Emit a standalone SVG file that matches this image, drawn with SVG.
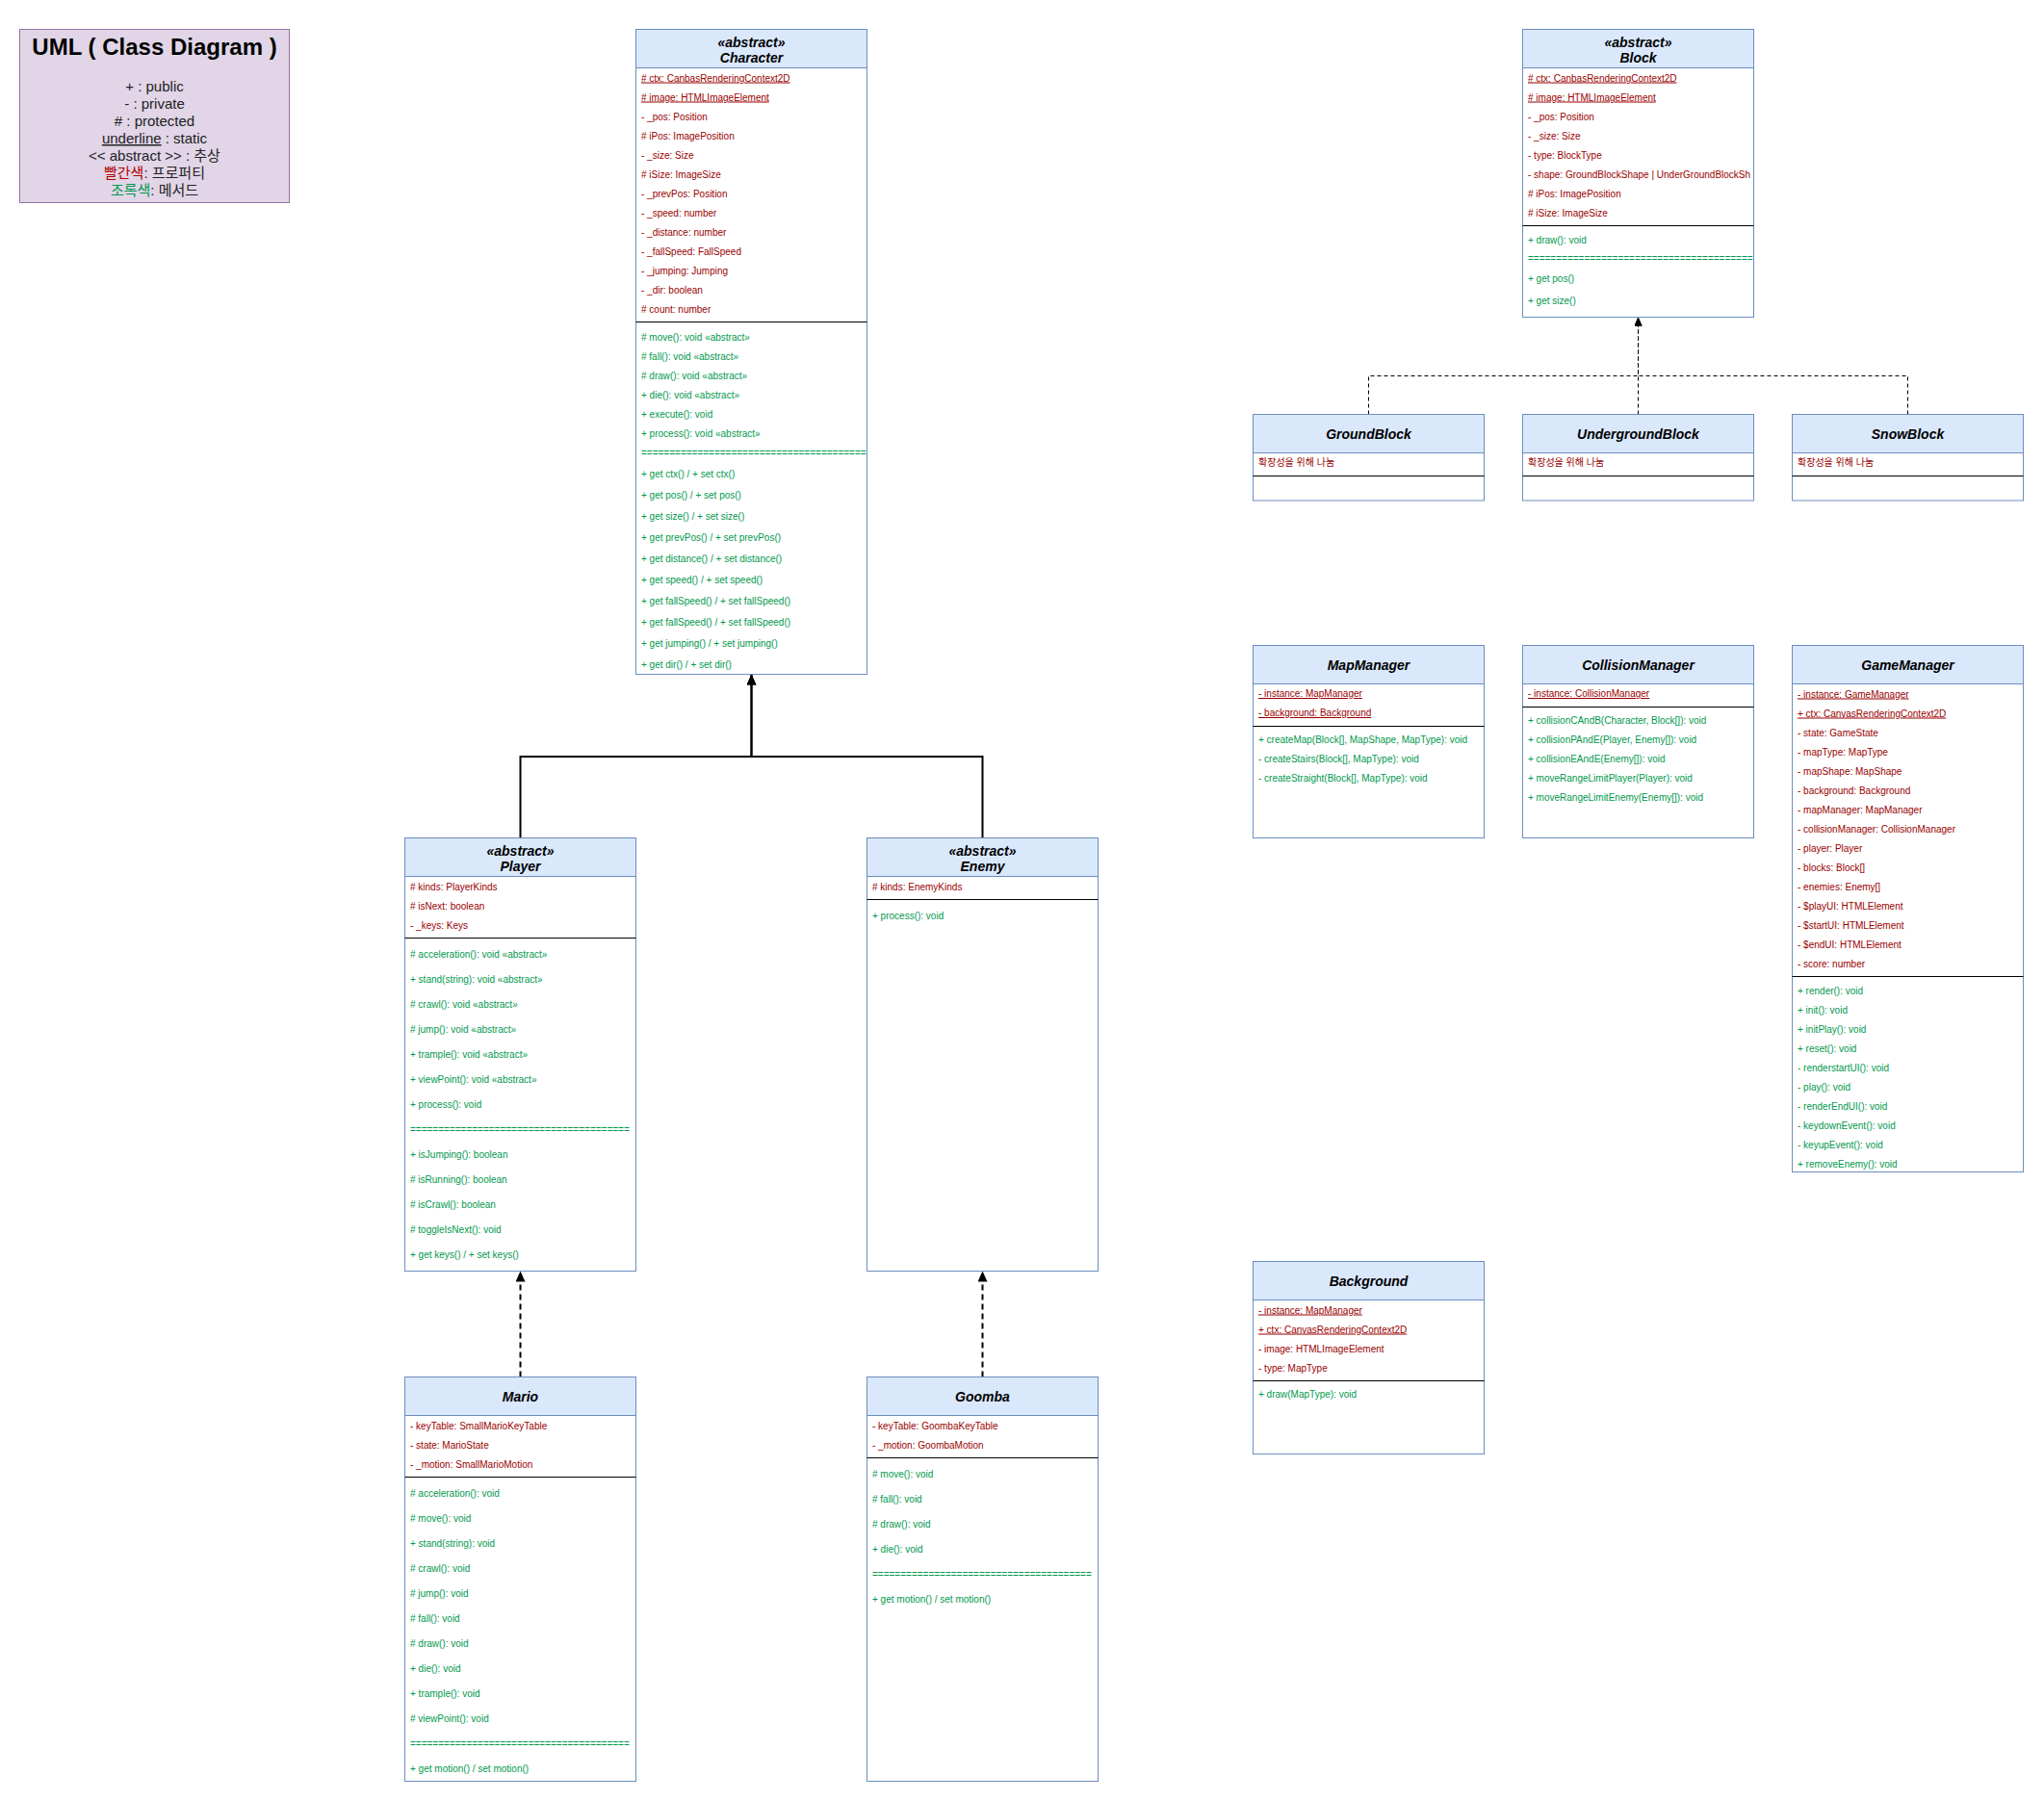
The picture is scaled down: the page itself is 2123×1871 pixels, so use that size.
<svg xmlns="http://www.w3.org/2000/svg" width="2123" height="1871" viewBox="0 0 2123 1871">
<style>
.t{font-family:"Liberation Sans","Noto Sans CJK KR",sans-serif}
.box{fill:#fff;stroke:#6c8ebf;stroke-width:1}
.hdr{fill:#dae8fc;stroke:#6c8ebf;stroke-width:1}
.dv{stroke:#000;stroke-width:1}
.a{font-family:"Liberation Sans","Noto Sans CJK KR",sans-serif;font-size:10px;fill:#990000}
.m{font-family:"Liberation Sans","Noto Sans CJK KR",sans-serif;font-size:10px;fill:#00994D}
.u{text-decoration:underline}
.h{font-family:"Liberation Sans",sans-serif;font-size:14px;font-weight:bold;font-style:italic;text-anchor:middle;fill:#000}
.lg{font-family:"Liberation Sans","Noto Sans CJK KR",sans-serif;font-size:15px;fill:#222;text-anchor:middle}
.solid{fill:none;stroke:#000;stroke-width:2}
.dash2{fill:none;stroke:#000;stroke-width:2;stroke-dasharray:6 4}
.dash1{fill:none;stroke:#000;stroke-width:1;stroke-dasharray:4 3}
</style>
<defs>
<marker id="tri" markerUnits="userSpaceOnUse" viewBox="0 0 11 10" refX="11" refY="5" markerWidth="11" markerHeight="10" orient="auto"><path d="M0 0 L11 5 L0 10 z" fill="#000"/></marker>
<marker id="tri-s" markerUnits="userSpaceOnUse" viewBox="0 0 9 8" refX="9" refY="4" markerWidth="9" markerHeight="8" orient="auto"><path d="M0 0 L9 4 L0 8 z" fill="#000"/></marker>
</defs>
<rect width="2123" height="1871" fill="#fff"/>

<g id="legend">
<rect x="20.5" y="30.5" width="280" height="180" fill="#e1d5e7" stroke="#9673a6"/>
<text x="160.5" y="57" class="t" font-size="24" font-weight="bold" text-anchor="middle" fill="#000">UML ( Class Diagram )</text>
<text x="160.5" y="95" class="lg">+ : public</text>
<text x="160.5" y="113" class="lg">- : private</text>
<text x="160.5" y="131" class="lg"># : protected</text>
<text x="160.5" y="149" class="lg"><tspan text-decoration="underline">underline</tspan> : static</text>
<text x="160.5" y="167" class="lg">&lt;&lt; abstract &gt;&gt; : 추상</text>
<text x="160.5" y="185" class="lg"><tspan fill="#B20000">빨간색</tspan>: 프로퍼티</text>
<text x="160.5" y="203" class="lg"><tspan fill="#00994D">조록색</tspan>: 메서드</text>
</g>

<g id="connectors">
<path class="solid" d="M540.5 870.5 V786 H780.5 V700.5" marker-end="url(#tri)"/>
<path class="solid" d="M1020.5 870.5 V786 H780.5 V700.5" marker-end="url(#tri)"/>
<path class="dash2" d="M540.5 1430.5 V1320.5" marker-end="url(#tri)"/>
<path class="dash2" d="M1020.5 1430.5 V1320.5" marker-end="url(#tri)"/>
<path class="dash1" d="M1421.5 430.5 V390.5 H1701.5 V329.5" marker-end="url(#tri-s)"/>
<path class="dash1" d="M1701.5 430.5 V329.5" marker-end="url(#tri-s)"/>
<path class="dash1" d="M1981.5 430.5 V390.5 H1701.5 V329.5" marker-end="url(#tri-s)"/>
</g>

<g id="Character">
<rect class="box" x="660.5" y="30.5" width="240" height="670"/>
<rect class="hdr" x="660.5" y="30.5" width="240" height="40"/>
<line class="dv" x1="660.5" y1="334.5" x2="900.5" y2="334.5"/>
<text class="h" x="780.5" y="48.5">«abstract»</text>
<text class="h" x="780.5" y="65">Character</text>
<text class="a u" x="666" y="84.5"># ctx: CanbasRenderingContext2D</text>
<text class="a u" x="666" y="104.5"># image: HTMLImageElement</text>
<text class="a" x="666" y="124.5">- _pos: Position</text>
<text class="a" x="666" y="144.5"># iPos: ImagePosition</text>
<text class="a" x="666" y="164.5">- _size: Size</text>
<text class="a" x="666" y="184.5"># iSize: ImageSize</text>
<text class="a" x="666" y="204.5">- _prevPos: Position</text>
<text class="a" x="666" y="224.5">- _speed: number</text>
<text class="a" x="666" y="244.5">- _distance: number</text>
<text class="a" x="666" y="264.5">- _fallSpeed: FallSpeed</text>
<text class="a" x="666" y="284.5">- _jumping: Jumping</text>
<text class="a" x="666" y="304.5">- _dir: boolean</text>
<text class="a" x="666" y="324.5"># count: number</text>
<text class="m" x="666" y="353.5"># move(): void «abstract»</text>
<text class="m" x="666" y="374"># fall(): void «abstract»</text>
<text class="m" x="666" y="394"># draw(): void «abstract»</text>
<text class="m" x="666" y="414">+ die(): void «abstract»</text>
<text class="m" x="666" y="434">+ execute(): void</text>
<text class="m" x="666" y="454">+ process(): void «abstract»</text>
<text class="m" x="666" y="473.5">========================================</text>
<text class="m" x="666" y="496">+ get ctx() / + set ctx()</text>
<text class="m" x="666" y="518">+ get pos() / + set pos()</text>
<text class="m" x="666" y="540">+ get size() / + set size()</text>
<text class="m" x="666" y="562">+ get prevPos() / + set prevPos()</text>
<text class="m" x="666" y="584">+ get distance() / + set distance()</text>
<text class="m" x="666" y="606">+ get speed() / + set speed()</text>
<text class="m" x="666" y="628">+ get fallSpeed() / + set fallSpeed()</text>
<text class="m" x="666" y="650">+ get fallSpeed() / + set fallSpeed()</text>
<text class="m" x="666" y="672">+ get jumping() / + set jumping()</text>
<text class="m" x="666" y="694">+ get dir() / + set dir()</text>
</g>

<g id="Block">
<rect class="box" x="1581.5" y="30.5" width="240" height="299"/>
<rect class="hdr" x="1581.5" y="30.5" width="240" height="40"/>
<line class="dv" x1="1581.5" y1="234.5" x2="1821.5" y2="234.5"/>
<text class="h" x="1701.5" y="48.5">«abstract»</text>
<text class="h" x="1701.5" y="65">Block</text>
<text class="a u" x="1587" y="84.5"># ctx: CanbasRenderingContext2D</text>
<text class="a u" x="1587" y="104.5"># image: HTMLImageElement</text>
<text class="a" x="1587" y="124.5">- _pos: Position</text>
<text class="a" x="1587" y="144.5">- _size: Size</text>
<text class="a" x="1587" y="164.5">- type: BlockType</text>
<text class="a" x="1587" y="184.5">- shape: GroundBlockShape | UnderGroundBlockSh</text>
<text class="a" x="1587" y="204.5"># iPos: ImagePosition</text>
<text class="a" x="1587" y="224.5"># iSize: ImageSize</text>
<text class="m" x="1587" y="252.5">+ draw(): void</text>
<text class="m" x="1587" y="272">========================================</text>
<text class="m" x="1587" y="293">+ get pos()</text>
<text class="m" x="1587" y="315.5">+ get size()</text>
</g>

<g id="GroundBlock">
<rect class="box" x="1301.5" y="430.5" width="240" height="89.5"/>
<rect class="hdr" x="1301.5" y="430.5" width="240" height="40"/>
<line class="dv" x1="1301.5" y1="494.5" x2="1541.5" y2="494.5"/>
<text class="h" x="1421.5" y="455.5">GroundBlock</text>
<text class="a" x="1307" y="483.5">확장성을 위해 나눔</text>
</g>
<g id="UndergroundBlock">
<rect class="box" x="1581.5" y="430.5" width="240" height="89.5"/>
<rect class="hdr" x="1581.5" y="430.5" width="240" height="40"/>
<line class="dv" x1="1581.5" y1="494.5" x2="1821.5" y2="494.5"/>
<text class="h" x="1701.5" y="455.5">UndergroundBlock</text>
<text class="a" x="1587" y="483.5">확장성을 위해 나눔</text>
</g>
<g id="SnowBlock">
<rect class="box" x="1861.5" y="430.5" width="240" height="89.5"/>
<rect class="hdr" x="1861.5" y="430.5" width="240" height="40"/>
<line class="dv" x1="1861.5" y1="494.5" x2="2101.5" y2="494.5"/>
<text class="h" x="1981.5" y="455.5">SnowBlock</text>
<text class="a" x="1867" y="483.5">확장성을 위해 나눔</text>
</g>

<g id="MapManager">
<rect class="box" x="1301.5" y="670.5" width="240" height="200"/>
<rect class="hdr" x="1301.5" y="670.5" width="240" height="40"/>
<line class="dv" x1="1301.5" y1="754.5" x2="1541.5" y2="754.5"/>
<text class="h" x="1421.5" y="695.5">MapManager</text>
<text class="a u" x="1307" y="724">- instance: MapManager</text>
<text class="a u" x="1307" y="744">- background: Background</text>
<text class="m" x="1307" y="772">+ createMap(Block[], MapShape, MapType): void</text>
<text class="m" x="1307" y="792">- createStairs(Block[], MapType): void</text>
<text class="m" x="1307" y="812">- createStraight(Block[], MapType): void</text>
</g>

<g id="CollisionManager">
<rect class="box" x="1581.5" y="670.5" width="240" height="200"/>
<rect class="hdr" x="1581.5" y="670.5" width="240" height="40"/>
<line class="dv" x1="1581.5" y1="734.5" x2="1821.5" y2="734.5"/>
<text class="h" x="1701.5" y="695.5">CollisionManager</text>
<text class="a u" x="1587" y="724">- instance: CollisionManager</text>
<text class="m" x="1587" y="752">+ collisionCAndB(Character, Block[]): void</text>
<text class="m" x="1587" y="772">+ collisionPAndE(Player, Enemy[]): void</text>
<text class="m" x="1587" y="792">+ collisionEAndE(Enemy[]): void</text>
<text class="m" x="1587" y="812">+ moveRangeLimitPlayer(Player): void</text>
<text class="m" x="1587" y="832">+ moveRangeLimitEnemy(Enemy[]): void</text>
</g>

<g id="GameManager">
<rect class="box" x="1861.5" y="670.5" width="240" height="547"/>
<rect class="hdr" x="1861.5" y="670.5" width="240" height="40"/>
<line class="dv" x1="1861.5" y1="1014.5" x2="2101.5" y2="1014.5"/>
<text class="h" x="1981.5" y="695.5">GameManager</text>
<text class="a u" x="1867" y="724.5">- instance: GameManager</text>
<text class="a u" x="1867" y="744.5">+ ctx: CanvasRenderingContext2D</text>
<text class="a" x="1867" y="764.5">- state: GameState</text>
<text class="a" x="1867" y="784.5">- mapType: MapType</text>
<text class="a" x="1867" y="804.5">- mapShape: MapShape</text>
<text class="a" x="1867" y="824.5">- background: Background</text>
<text class="a" x="1867" y="844.5">- mapManager: MapManager</text>
<text class="a" x="1867" y="864.5">- collisionManager: CollisionManager</text>
<text class="a" x="1867" y="884.5">- player: Player</text>
<text class="a" x="1867" y="904.5">- blocks: Block[]</text>
<text class="a" x="1867" y="924.5">- enemies: Enemy[]</text>
<text class="a" x="1867" y="944.5">- $playUI: HTMLElement</text>
<text class="a" x="1867" y="964.5">- $startUI: HTMLElement</text>
<text class="a" x="1867" y="984.5">- $endUI: HTMLElement</text>
<text class="a" x="1867" y="1004.5">- score: number</text>
<text class="m" x="1867" y="1033">+ render(): void</text>
<text class="m" x="1867" y="1053">+ init(): void</text>
<text class="m" x="1867" y="1073">+ initPlay(): void</text>
<text class="m" x="1867" y="1093">+ reset(): void</text>
<text class="m" x="1867" y="1113">- renderstartUI(): void</text>
<text class="m" x="1867" y="1133">- play(): void</text>
<text class="m" x="1867" y="1153">- renderEndUI(): void</text>
<text class="m" x="1867" y="1173">- keydownEvent(): void</text>
<text class="m" x="1867" y="1193">- keyupEvent(): void</text>
<text class="m" x="1867" y="1213">+ removeEnemy(): void</text>
</g>

<g id="Background">
<rect class="box" x="1301.5" y="1310.5" width="240" height="200"/>
<rect class="hdr" x="1301.5" y="1310.5" width="240" height="40"/>
<line class="dv" x1="1301.5" y1="1434.5" x2="1541.5" y2="1434.5"/>
<text class="h" x="1421.5" y="1335.5">Background</text>
<text class="a u" x="1307" y="1364.5">- instance: MapManager</text>
<text class="a u" x="1307" y="1384.5">+ ctx: CanvasRenderingContext2D</text>
<text class="a" x="1307" y="1404.5">- image: HTMLImageElement</text>
<text class="a" x="1307" y="1424.5">- type: MapType</text>
<text class="m" x="1307" y="1452">+ draw(MapType): void</text>
</g>

<g id="Player">
<rect class="box" x="420.5" y="870.5" width="240" height="450"/>
<rect class="hdr" x="420.5" y="870.5" width="240" height="40"/>
<line class="dv" x1="420.5" y1="974.5" x2="660.5" y2="974.5"/>
<text class="h" x="540.5" y="888.5">«abstract»</text>
<text class="h" x="540.5" y="905">Player</text>
<text class="a" x="426" y="924.5"># kinds: PlayerKinds</text>
<text class="a" x="426" y="944.5"># isNext: boolean</text>
<text class="a" x="426" y="964.5">- _keys: Keys</text>
<text class="m" x="426" y="995"># acceleration(): void «abstract»</text>
<text class="m" x="426" y="1021">+ stand(string): void «abstract»</text>
<text class="m" x="426" y="1047"># crawl(): void «abstract»</text>
<text class="m" x="426" y="1073"># jump(): void «abstract»</text>
<text class="m" x="426" y="1099">+ trample(): void «abstract»</text>
<text class="m" x="426" y="1125">+ viewPoint(): void «abstract»</text>
<text class="m" x="426" y="1151">+ process(): void</text>
<text class="m" x="426" y="1177">=======================================</text>
<text class="m" x="426" y="1203">+ isJumping(): boolean</text>
<text class="m" x="426" y="1229"># isRunning(): boolean</text>
<text class="m" x="426" y="1255"># isCrawl(): boolean</text>
<text class="m" x="426" y="1281"># toggleIsNext(): void</text>
<text class="m" x="426" y="1307">+ get keys() / + set keys()</text>
</g>

<g id="Enemy">
<rect class="box" x="900.5" y="870.5" width="240" height="450"/>
<rect class="hdr" x="900.5" y="870.5" width="240" height="40"/>
<line class="dv" x1="900.5" y1="934.5" x2="1140.5" y2="934.5"/>
<text class="h" x="1020.5" y="888.5">«abstract»</text>
<text class="h" x="1020.5" y="905">Enemy</text>
<text class="a" x="906" y="924.5"># kinds: EnemyKinds</text>
<text class="m" x="906" y="955">+ process(): void</text>
</g>

<g id="Mario">
<rect class="box" x="420.5" y="1430.5" width="240" height="420"/>
<rect class="hdr" x="420.5" y="1430.5" width="240" height="40"/>
<line class="dv" x1="420.5" y1="1534.5" x2="660.5" y2="1534.5"/>
<text class="h" x="540.5" y="1455.5">Mario</text>
<text class="a" x="426" y="1484.5">- keyTable: SmallMarioKeyTable</text>
<text class="a" x="426" y="1504.5">- state: MarioState</text>
<text class="a" x="426" y="1524.5">- _motion: SmallMarioMotion</text>
<text class="m" x="426" y="1555"># acceleration(): void</text>
<text class="m" x="426" y="1581"># move(): void</text>
<text class="m" x="426" y="1607">+ stand(string): void</text>
<text class="m" x="426" y="1633"># crawl(): void</text>
<text class="m" x="426" y="1659"># jump(): void</text>
<text class="m" x="426" y="1685"># fall(): void</text>
<text class="m" x="426" y="1711"># draw(): void</text>
<text class="m" x="426" y="1737">+ die(): void</text>
<text class="m" x="426" y="1763">+ trample(): void</text>
<text class="m" x="426" y="1789"># viewPoint(): void</text>
<text class="m" x="426" y="1815">=======================================</text>
<text class="m" x="426" y="1841">+ get motion() / set motion()</text>
</g>

<g id="Goomba">
<rect class="box" x="900.5" y="1430.5" width="240" height="420"/>
<rect class="hdr" x="900.5" y="1430.5" width="240" height="40"/>
<line class="dv" x1="900.5" y1="1514.5" x2="1140.5" y2="1514.5"/>
<text class="h" x="1020.5" y="1455.5">Goomba</text>
<text class="a" x="906" y="1484.5">- keyTable: GoombaKeyTable</text>
<text class="a" x="906" y="1504.5">- _motion: GoombaMotion</text>
<text class="m" x="906" y="1535"># move(): void</text>
<text class="m" x="906" y="1561"># fall(): void</text>
<text class="m" x="906" y="1587"># draw(): void</text>
<text class="m" x="906" y="1613">+ die(): void</text>
<text class="m" x="906" y="1639">=======================================</text>
<text class="m" x="906" y="1665">+ get motion() / set motion()</text>
</g>
</svg>
